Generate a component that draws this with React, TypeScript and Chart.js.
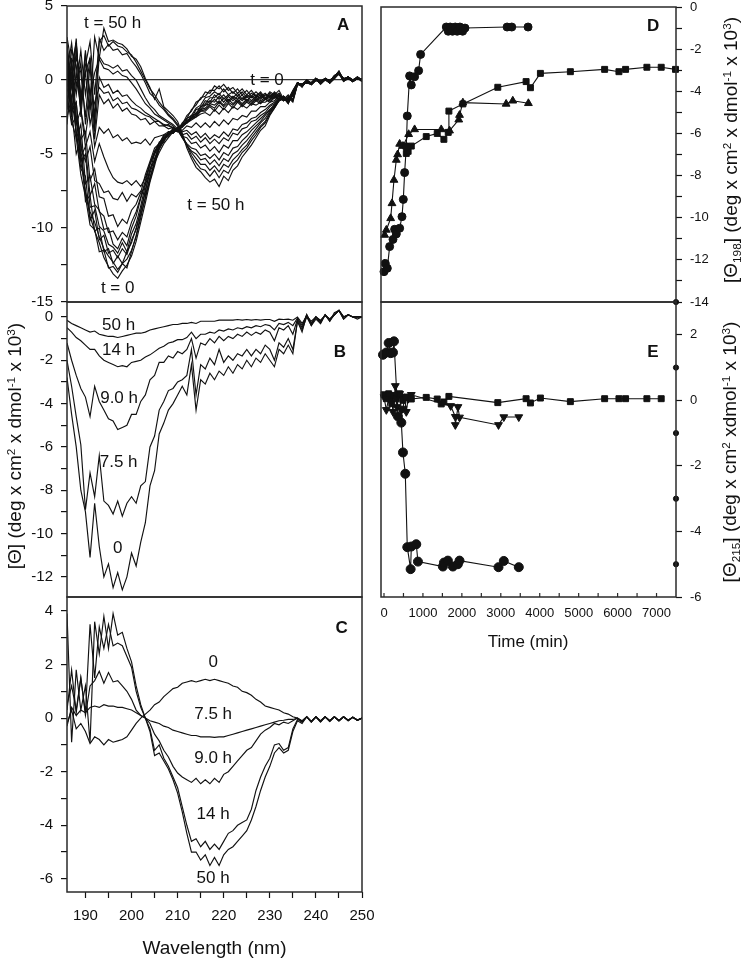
import React, { useEffect, useRef } from "react";
import { Chart, registerables } from "chart.js";
Chart.register(...registerables);

const FONT = "'Liberation Sans', Arial, Helvetica, sans-serif";
const INK = "#111111";

// ---------- shared wavelength axis (nm) ----------
const WAVELENGTH_NM = [186,187,188,189,190,191,192,193,194,195,196,197,198,199,200,201,202,203,204,205,206,207,208,209,210,211,212,213,214,215,216,217,218,219,220,221,222,223,224,225,226,227,228,229,230,231,232,233,234,235,236,237,238,239,240,241,242,243,244,245,246,247,248,249,250];
const WAVE_TICKS = [190,195,200,205,210,215,220,225,230,235,240,245,250];

// ---------- Panel A: measured spectra, t = 0 (A_L1) ... t = 50 h (A_U9) ----------
const A_L1 = [-2.5,-1.2,-3.5,-5.5,-7.6,-9.2,-10.2, -11.0,-12.0,-12.6,-13.1,-13.4,-12.9,-12.5,-11.9,-10.9, -9.6,-8.3,-6.9,-5.8,-4.6,-4.1,-3.7,-3.5,-3.3, -3.0,-2.4,-2.1,-1.5,-1.3,-0.8,-0.9,-0.4,-0.6,-0.3,-0.7,-0.5,-0.9,-0.6,-1.0,-0.7,-1.1,-0.8,-1.2,-0.8,-1.0,-0.7,-1.3,-1.0,-1.4,-0.3, -0.4,-0.1,-0.3,0.0,-0.2,0.1,-0.2,0.2,0.6,0.0,0.2,-0.1,0.2,-0.1];
const A_L2 = [0.5,-2.8,-3.9,-6.4,-7.9,-9.8,-10.1, -11.6,-11.5,-12.7,-12.6,-13.0,-12.4,-12.7,-11.6,-10.5, -9.1,-8.0,-6.6,-5.6,-4.5,-4.0,-3.8,-3.4,-3.4, -2.9,-2.6,-2.0,-1.7,-1.2,-1.1,-0.7,-0.7,-0.4,-0.8,-0.5,-0.9,-0.6,-1.0,-0.7,-1.1,-0.8,-1.1,-0.9,-1.2,-0.8,-1.1,-1.4,-1.1,-1.3,-0.2, -0.3,-0.2,-0.2,0.1,-0.1,0.0,-0.1,0.3,0.5,-0.1,0.1,0.0,0.1,0.0];
const A_L3 = [-1.0,-3.0,-2.5,-5.0,-7.5,-8.9,-9.6, -10.6,-11.4,-11.9,-12.3,-12.8,-12.4,-12.1,-11.5,-10.6, -9.3,-7.9,-6.8,-5.5,-4.7,-4.1,-3.6,-3.6,-3.2, -3.1,-2.6,-2.4,-1.9,-1.7,-1.2,-1.1,-0.8,-1.0,-0.6,-1.0,-0.8,-1.1,-0.8,-1.2,-0.9,-1.1,-0.9,-1.3,-0.9,-1.1,-0.9,-1.4,-1.2,-1.5,-0.3, -0.3,-0.2,-0.2,0.1,-0.1,0.0,-0.1,0.3,0.5,-0.1,0.1,0.0,0.1,0.0];
const A_L4 = [1.5,-2.0,-5.0,-4.0,-8.2,-7.8,-10.2, -10.0,-11.6,-11.4,-12.4,-11.9,-12.4,-11.6,-11.0,-10.0, -8.9,-7.4,-6.3,-5.3,-4.6,-3.9,-3.7,-3.4,-3.5, -3.1,-2.9,-2.4,-2.3,-1.8,-1.6,-1.2,-1.2,-0.9,-1.3,-1.0,-1.2,-0.9,-1.3,-1.0,-1.2,-1.0,-1.3,-1.0,-1.1,-0.9,-1.3,-1.4,-1.2,-1.1,-0.2, -0.5,0.0,-0.3,0.1,-0.3,0.0,-0.1,0.1,0.4,0.1,0.2,0.0,0.1,0.1];
const A_L5 = [-3.0,0.5,-3.5,-6.0,-6.5,-9.5,-8.8, -10.8,-10.5,-11.7,-11.5,-12.0,-11.4,-11.8,-10.8,-10.1, -8.8,-7.6,-6.0,-5.4,-4.3,-4.2,-3.5,-3.6,-3.3, -3.2,-2.7,-2.6,-2.0,-1.9,-1.4,-1.5,-1.0,-1.3,-1.0,-1.4,-1.1,-1.3,-1.0,-1.4,-1.1,-1.2,-1.0,-1.3,-1.0,-1.2,-0.9,-1.3,-1.2,-1.4,-0.3, -0.3,-0.2,-0.2,0.0,-0.2,0.1,-0.1,0.2,0.5,0.0,0.1,0.0,0.1,0.0];
const A_L6 = [2.5,-0.5,-2.5,-5.5,-5.0,-8.6,-8.5, -9.9,-10.2,-11.1,-11.3,-11.7,-11.0,-11.6,-10.4,-9.7, -8.5,-7.1,-6.1,-5.0,-4.5,-3.9,-3.7,-3.4,-3.4, -3.0,-2.9,-2.4,-2.3,-1.8,-1.7,-1.4,-1.5,-1.1,-1.5,-1.1,-1.4,-1.1,-1.4,-1.1,-1.4,-1.1,-1.2,-1.0,-1.2,-0.9,-1.3,-1.1,-1.4,-1.0,-0.3, -0.4,-0.1,-0.2,0.0,-0.2,0.1,-0.1,0.2,0.5,0.0,0.1,-0.1,0.1,0.0];
const A_L7 = [-0.5,1.0,-4.0,-3.0,-7.0,-6.5,-8.4, -8.8,-10.1,-10.0,-11.1,-11.4,-10.7,-11.2,-10.0,-9.2, -8.0,-7.0,-5.7,-5.0,-4.2,-4.0,-3.5,-3.5,-3.3, -3.1,-2.8,-2.6,-2.2,-2.0,-1.7,-1.6,-1.3,-1.6,-1.2,-1.5,-1.2,-1.5,-1.2,-1.4,-1.1,-1.4,-1.1,-1.3,-1.1,-1.2,-1.0,-1.4,-1.2,-1.3,-0.3, -0.3,-0.2,-0.3,0.1,-0.2,0.0,-0.2,0.2,0.4,0.0,0.2,0.0,0.1,-0.1];
const A_L8 = [0.8,-2.2,-1.5,-5.2,-4.5,-7.8,-7.0, -8.9,-9.2,-10.3,-10.2,-10.8,-10.3,-10.6,-9.6,-8.9, -7.9,-6.8,-5.6,-4.9,-4.3,-3.8,-3.6,-3.3,-3.4, -3.0,-2.9,-2.5,-2.4,-2.0,-1.9,-1.6,-1.7,-1.4,-1.7,-1.3,-1.6,-1.3,-1.6,-1.3,-1.5,-1.2,-1.4,-1.2,-1.3,-1.0,-1.3,-1.2,-1.4,-0.9,-0.2, -0.4,-0.1,-0.3,0.0,-0.1,0.1,-0.2,0.1,0.5,0.1,0.1,0.0,0.2,0.0];
const A_L9 = [-2.0,1.5,-2.5,-4.0,-3.5,-6.8,-6.0, -7.9,-8.0,-9.2,-9.1,-9.9,-9.4,-9.7,-8.8,-8.4, -7.6,-6.4,-5.5,-4.6,-4.3,-3.7,-3.7,-3.3,-3.5, -3.1,-2.9,-2.6,-2.5,-2.1,-2.0,-1.7,-1.9,-1.5,-1.8,-1.5,-1.7,-1.4,-1.7,-1.4,-1.6,-1.3,-1.5,-1.3,-1.4,-1.1,-1.3,-1.1,-1.5,-1.0,-0.2, -0.3,-0.2,-0.2,0.1,-0.2,0.1,-0.1,0.2,0.4,0.0,0.2,-0.1,0.1,0.0];
const A_L10 = [0.5,-2.0,-1.5,-4.5,-5.5,-4.5,-6.8, -7.0,-7.6,-7.5,-8.0,-8.1,-7.6,-8.2,-7.7,-7.9, -7.5,-7.8,-6.6,-5.6,-4.9,-4.3,-3.9,-3.5,-3.4, -3.1,-2.8,-2.6,-2.4,-2.1,-2.1,-1.8,-2.1,-1.7,-2.0,-1.6,-1.9,-1.5,-1.8,-1.5,-1.7,-1.4,-1.6,-1.3,-1.5,-1.2,-1.1,-1.3,-1.3,-1.0,-0.2, -0.4,-0.1,-0.3,0.0,-0.1,0.1,-0.2,0.1,0.5,0.1,0.1,0.0,0.2,0.0];
const A_L11 = [-1.5,0.5,-3.0,-2.0,-4.5,-3.5,-5.5, -4.3,-5.2,-6.0,-6.6,-6.9,-7.0,-6.8,-7.1,-6.8, -7.2,-6.6,-5.7,-4.8,-4.3,-3.9,-3.7,-3.4,-3.4, -3.2,-2.9,-2.7,-2.5,-2.3,-2.2,-2.4,-2.0,-2.3,-1.9,-2.2,-1.8,-2.0,-1.7,-1.9,-1.6,-1.7,-1.5,-1.5,-1.3,-1.2,-1.3,-1.2,-1.5,-0.9,-0.2, -0.3,-0.1,-0.2,0.0,-0.2,0.1,-0.1,0.2,0.5,0.0,0.1,-0.1,0.1,0.0];
const A_U1 = [1.0,-2.5,0.5,-2.0,-3.8,-1.5,-4.5, -3.2,-3.6,-3.3,-3.9,-3.7,-4.1,-3.9,-4.3,-4.2, -4.3,-4.0,-4.4,-3.9,-3.8,-3.7,-3.5,-3.6,-3.3, -3.4,-3.1,-3.2,-2.9,-3.2,-2.9,-3.2,-2.8,-3.1,-2.7,-3.0,-2.6,-2.7,-2.4,-2.5,-2.1,-2.1,-1.8,-1.8,-1.5,-1.4,-1.1,-1.2,-1.4,-0.8,-0.2, -0.3,-0.1,-0.2,0.1,-0.1,0.0,-0.1,0.2,0.4,0.0,0.2,0.0,0.1,0.0];
const A_U2 = [-2.0,1.0,-1.0,1.2,-3.0,-0.5,-4.0, -1.0,-1.6,-1.3,-1.9,-1.6,-2.1,-1.9,-2.3,-2.4, -2.7,-2.6,-3.0,-2.8,-3.1,-3.1,-3.3,-3.2,-3.4, -3.5,-3.4,-3.7,-3.5,-3.9,-3.6,-4.0,-3.7,-3.9,-3.5,-3.8,-3.3,-3.4,-3.0,-2.9,-2.6,-2.5,-2.2,-2.0,-1.7,-1.5,-1.2,-1.1,-1.4,-0.8,-0.2, -0.4,-0.1,-0.3,0.0,-0.2,0.1,-0.2,0.1,0.5,0.1,0.1,0.0,0.1,0.0];
const A_U3 = [1.2,-1.5,2.0,-1.0,0.5,-3.0,-1.5, -0.5,-0.9,-0.8,-1.4,-1.2,-1.6,-1.5,-1.9,-2.0, -2.2,-2.4,-2.5,-2.8,-2.8,-3.1,-3.0,-3.3,-3.4, -3.7,-3.6,-4.0,-3.8,-4.2,-3.9,-4.3,-4.0,-4.3,-3.9,-4.1,-3.6,-3.7,-3.3,-3.2,-2.8,-2.7,-2.4,-2.2,-1.8,-1.6,-1.3,-1.1,-1.4,-0.8,-0.2, -0.3,-0.1,-0.2,0.1,-0.1,0.0,-0.1,0.2,0.4,0.0,0.2,-0.1,0.1,0.0];
const A_U4 = [2.0,-1.5,1.5,0.5,-2.5,1.0,-3.5, 0.2,-0.5,-0.3,-0.9,-0.7,-1.1,-1.0,-1.4,-1.7, -1.9,-2.2,-2.4,-2.6,-2.8,-3.0,-3.1,-3.2,-3.4, -3.8,-3.9,-4.3,-4.2,-4.6,-4.4,-4.8,-4.5,-4.9,-4.4,-4.6,-4.1,-4.1,-3.7,-3.5,-3.2,-2.9,-2.6,-2.3,-2.0,-1.7,-1.4,-1.2,-1.3,-0.7,-0.2, -0.3,0.0,-0.2,0.1,-0.1,0.0,-0.1,0.3,0.5,0.0,0.2,0.0,0.1,0.1];
const A_U5 = [-1.0,2.0,1.0,-2.0,1.8,-1.0,0.5, 1.4,0.8,0.7,0.4,0.6,0.3,0.2,-0.2,-0.6, -1.1,-1.6,-1.9,-2.3,-2.5,-2.7,-2.9,-3.1,-3.4, -3.9,-4.3,-4.6,-4.7,-5.1,-5.0,-5.3,-5.0,-5.4,-4.9,-5.1,-4.6,-4.5,-4.1,-3.8,-3.4,-3.1,-2.8,-2.4,-2.0,-1.7,-1.4,-1.2,-1.4,-0.8,-0.2, -0.4,-0.1,-0.3,0.0,-0.2,0.1,-0.1,0.2,0.6,0.0,0.1,-0.1,0.2,0.0];
const A_U6 = [1.5,-0.5,2.5,-1.5,0.5,1.5,-2.5, 1.6,1.1,1.0,0.8,1.0,0.6,0.7,0.3,0.0, -0.6,-1.2,-1.7,-2.0,-2.4,-2.6,-2.8,-3.0,-3.3, -3.9,-4.4,-4.8,-5.0,-5.4,-5.3,-5.7,-5.4,-5.8,-5.3,-5.5,-5.0,-4.8,-4.4,-4.1,-3.7,-3.3,-2.9,-2.6,-2.1,-1.8,-1.4,-1.2,-1.5,-0.8,-0.2, -0.3,-0.1,-0.2,0.1,-0.1,0.1,0.0,0.2,0.5,0.0,0.1,0.0,0.1,0.0];
const A_U7 = [0.5,2.5,-0.5,2.0,-1.0,1.5,-3.0, 2.8,2.0,2.4,2.0,2.1,1.7,1.8,1.3,0.9, 0.4,-0.2,-0.9,-1.2,-1.7,-2.0,-2.4,-2.7,-3.1, -3.8,-4.4,-4.9,-5.3,-5.7,-5.7,-6.1,-5.8,-6.2,-5.7,-5.9,-5.4,-5.1,-4.7,-4.4,-3.9,-3.5,-3.1,-2.8,-2.2,-1.8,-1.3,-1.1,-1.5,-0.8,-0.2, -0.3,0.0,-0.2,0.1,-0.1,0.1,-0.1,0.2,0.4,0.1,0.2,0.0,0.1,0.0];
const A_U8 = [2.2,0.0,2.8,-2.5,1.0,2.6,-1.0, 2.6,3.0,2.3,2.6,2.3,2.2,1.9,1.7,1.2, 0.6,0.0,-0.6,-1.0,-1.5,-1.9,-2.3,-2.6,-3.0, -3.7,-4.4,-5.1,-5.6,-6.0,-6.1,-6.5,-6.1,-6.6,-6.1,-6.3,-5.7,-5.4,-4.9,-4.6,-4.1,-3.7,-3.2,-2.9,-2.3,-1.9,-1.4,-1.2,-1.6,-0.9,-0.2, -0.4,-0.1,-0.3,0.0,-0.2,0.1,-0.1,0.2,0.5,0.0,0.2,-0.1,0.1,0.0];
const A_U9 = [2.9,1.0,2.5,-1.5,2.0,-2.0,2.9, 1.5,3.5,2.6,2.7,2.5,2.4,2.1,1.6,1.4, 0.9,0.1,-0.5,-1.3,-0.6,-1.8,-2.1,-2.4,-2.8, -3.6,-4.6,-5.3,-5.9,-6.2,-6.6,-6.9,-6.7,-7.2,-6.5,-6.8,-6.1,-5.8,-5.2,-4.8,-4.4,-3.9,-3.4,-3.1,-2.4,-1.9,-1.4,-1.2,-1.6,-0.9,-0.2, -0.4,-0.1,-0.3,0.0,-0.2,0.1,-0.2,0.2,0.5,0.0,0.2,-0.1,0.1,0.0];
const A_SERIES = [A_L1, A_L2, A_L3, A_L4, A_L5, A_L6, A_L7, A_L8, A_L9, A_L10, A_L11, A_U1, A_U2, A_U3, A_U4, A_U5, A_U6, A_U7, A_U8, A_U9];
const A_Y_TICKS = [-15, -12.5, -10, -7.5, -5, -2.5, 0, 2.5, 5];

// ---------- Panel B: component 1 ----------
const B_0H = [-2.8,-4.5,-6.0,-8.0,-9.0,-11.1,-8.6,-10.6,-12.0,-11.4, -12.5,-11.8,-12.6,-12.0,-10.9,-11.5,-10.4,-9.5,-7.8,-7.1, -5.4,-4.9,-4.3,-4.0,-3.6,-3.2,-3.6,-2.2,-4.3,-2.9, -3.1,-2.6,-2.9,-2.5,-2.7,-2.3,-2.6,-2.2,-2.4,-2.0, -2.3,-1.9,-2.1,-1.7,-2.0,-2.3,-1.5,-1.7,-1.3,-1.7, -0.2,-0.7,0.1,-0.4,-0.1,-0.3,0.1,-0.2,0.1,0.3, -0.1,0.1,0.0,-0.1,0.0];
const B_7_5H = [-2.0,-3.2,-4.6,-5.9,-8.9,-7.2,-8.3,-6.4,-8.5,-8.7, -9.1,-8.5,-9.2,-8.6,-8.3,-8.6,-7.8,-7.6,-6.0,-5.5, -4.3,-3.9,-3.4,-3.3,-3.0,-2.9,-2.7,-1.5,-3.6,-2.2, -2.4,-1.9,-2.2,-1.5,-2.1,-1.8,-2.0,-1.7,-1.8,-1.5, -1.8,-1.5,-1.7,-1.3,-1.5,-2.0,-1.2,-1.4,-1.0,-1.5, -0.2,-0.6,0.0,-0.4,0.0,-0.3,0.1,-0.2,0.2,0.3, -0.1,0.1,0.0,0.0,0.0];
const B_9H = [-1.2,-2.0,-2.7,-3.3,-3.7,-4.6,-3.2,-3.9,-4.3,-4.7, -4.8,-5.2,-5.1,-5.0,-4.5,-4.5,-3.9,-3.6,-2.9,-2.7, -2.1,-2.1,-1.8,-1.9,-1.6,-1.7,-1.5,-1.0,-1.9,-1.2, -1.3,-1.0,-1.2,-0.9,-1.1,-0.9,-1.0,-0.8,-0.9,-0.7, -0.85,-0.7,-0.8,-0.6,-0.7,-1.1,-0.5,-0.6,-0.4,-0.8, -0.1,-0.5,0.1,-0.3,0.0,-0.2,0.1,-0.1,0.1,0.3, 0.0,0.1,0.0,0.0,0.0];
const B_14H = [-0.5,-0.7,-0.95,-1.1,-1.3,-1.5,-1.5,-1.8,-2.0,-2.1, -2.2,-2.3,-2.25,-2.3,-2.1,-2.05,-2.0,-1.85,-1.75,-1.6, -1.45,-1.35,-1.2,-1.15,-1.05,-1.05,-0.95,-0.7,-1.0,-0.8, -0.8,-0.7,-0.75,-0.6,-0.65,-0.55,-0.6,-0.5,-0.55,-0.45, -0.5,-0.4,-0.45,-0.35,-0.4,-0.6,-0.3,-0.35,-0.25,-0.4, -0.05,-0.4,0.1,-0.3,0.0,-0.2,0.1,-0.1,0.1,0.3, 0.0,0.1,0.0,0.0,0.0];
const B_50H = [-0.15,-0.3,-0.4,-0.5,-0.6,-0.7,-0.65,-0.8,-0.85,-0.9, -0.9,-0.95,-0.9,-0.85,-0.8,-0.75,-0.75,-0.7,-0.6,-0.55, -0.5,-0.45,-0.4,-0.35,-0.35,-0.3,-0.3,-0.25,-0.3,-0.2, -0.2,-0.2,-0.2,-0.15,-0.15,-0.15,-0.15,-0.12,-0.15,-0.12, -0.15,-0.12,-0.15,-0.12,-0.12,-0.2,-0.1,-0.12,-0.1,-0.15, 0.0,-0.3,0.05,-0.2,0.0,-0.15,0.05,-0.1,0.1,0.3, 0.0,0.1,0.0,0.0,0.0];
const B_SERIES = [B_0H, B_7_5H, B_9H, B_14H, B_50H];
const B_Y_TICKS = [-12,-11,-10,-9,-8,-7,-6,-5,-4,-3,-2,-1,0];

// ---------- Panel C: component 2 ----------
const C_0H = [-0.2,0.3,-0.4,-0.2,-0.5,-0.95,-0.7,-0.8,-1.0,-0.8, -0.9,-0.85,-0.8,-0.7,-0.45,-0.2,0.0,0.15,0.3,0.5, 0.6,0.8,0.95,1.1,1.15,1.3,1.35,1.4,1.35,1.4, 1.45,1.4,1.45,1.4,1.35,1.3,1.2,1.15,1.0,0.95, 0.85,0.7,0.6,0.45,0.4,0.35,0.3,0.2,0.15,0.05, 0.0,-0.1,0.05,-0.12,0.05,-0.12,0.05,-0.1,0.05,-0.1, 0.05,-0.08,0.03,-0.08,0.0];
const C_7_5H = [-0.3,0.4,0.1,0.3,0.2,0.4,0.45,0.4,0.5,0.45, 0.45,0.4,0.4,0.35,0.3,0.2,0.1,0.0,-0.1,-0.15, -0.2,-0.3,-0.35,-0.45,-0.5,-0.55,-0.6,-0.65,-0.65,-0.7, -0.7,-0.7,-0.72,-0.7,-0.7,-0.65,-0.6,-0.55,-0.5,-0.45, -0.4,-0.35,-0.3,-0.25,-0.2,-0.15,-0.1,-0.08,-0.05,-0.05, 0.0,-0.12,0.05,-0.12,0.05,-0.1,0.05,-0.1,0.05,-0.1, 0.05,-0.08,0.03,-0.06,0.0];
const C_9H = [0.3,1.8,0.2,1.5,0.1,1.2,1.4,1.75,1.3,1.7, 1.35,1.4,1.2,1.0,0.7,0.3,0.1,0.0,-0.2,-0.6, -0.85,-1.2,-1.45,-1.8,-2.05,-2.2,-2.3,-2.4,-2.25,-2.45, -2.3,-2.45,-2.25,-2.4,-2.1,-2.0,-1.8,-1.6,-1.4,-1.2, -1.1,-0.85,-0.6,-0.45,-0.35,-0.2,-0.25,-0.15,-0.2,-0.1, 0.0,-0.15,0.05,-0.12,0.05,-0.12,0.05,-0.1,0.05,-0.1, 0.05,-0.08,0.03,-0.08,0.0];
const C_14H = [0.5,1.2,0.3,1.5,0.2,3.5,1.5,3.4,2.6,3.5, 2.7,2.8,2.7,2.3,1.9,1.0,0.4,0.0,-0.4,-1.2, -1.0,-1.5,-1.8,-2.2,-2.6,-3.3,-4.0,-4.6,-4.5,-4.8, -4.6,-4.9,-4.7,-4.9,-4.6,-4.3,-4.2,-4.0,-3.9,-3.8, -3.4,-2.7,-2.2,-1.8,-1.5,-1.0,-0.95,-1.2,-1.1,-0.4, -0.05,-0.15,0.05,-0.15,0.05,-0.12,0.05,-0.12,0.05,-0.1, 0.05,-0.1,0.03,-0.08,0.0];
const C_50H = [3.9,-0.9,1.8,0.3,1.2,-0.9,3.6,2.4,3.8,2.6, 3.9,3.1,3.2,2.6,2.1,1.2,0.5,0.0,-0.5,-1.4, -1.3,-1.6,-1.9,-2.3,-2.8,-3.5,-4.3,-5.0,-5.0,-5.3, -5.1,-5.5,-5.2,-5.5,-5.1,-4.9,-4.8,-4.6,-4.4,-4.2, -3.8,-3.3,-2.7,-2.2,-1.8,-1.3,-1.1,-1.3,-1.2,-0.5, -0.1,-0.2,0.05,-0.15,0.05,-0.15,0.05,-0.12,0.05,-0.1, 0.05,-0.1,0.03,-0.08,0.0];
const C_SERIES = [C_0H, C_7_5H, C_9H, C_14H, C_50H];
const C_Y_TICKS = [-6,-5,-4,-3,-2,-1,0,1,2,3,4];

// ---------- Panel D: [Theta]198 vs time ----------
const D_CIRCLE_T = [0,34,85,145,231,273,316,402,462,496,530,573,598,658,701,786,889,940,1600,1650,1700,1760,1830,1880,1950,2020,2080,3162,3282,3700];
const D_CIRCLE_V = [-12.56,-12.17,-12.4,-11.37,-11.03,-10.55,-10.77,-10.5,-9.95,-9.13,-7.86,-6.63,-5.17,-3.27,-3.7,-3.31,-3.02,-2.25,-0.95,-1.15,-0.95,-1.15,-0.95,-1.15,-0.95,-1.15,-1.0,-0.95,-0.95,-0.95];
const D_TRI_T = [17,60,171,205,256,316,350,402,487,633,786,1470,1684,1920,1940,2026,3137,3308,3709];
const D_TRI_V = [-10.82,-10.58,-10.03,-9.32,-8.21,-7.26,-7.0,-6.5,-6.6,-6.04,-5.81,-5.81,-5.87,-5.35,-5.13,-4.54,-4.6,-4.45,-4.57];
const D_SQ_T = [573,620,701,1085,1367,1538,1650,1667,2026,2923,3650,3761,4017,4787,5667,6034,6205,6752,7120,7487];
const D_SQ_V = [-6.95,-6.85,-6.6,-6.15,-6.0,-6.28,-5.95,-4.94,-4.6,-3.81,-3.54,-3.83,-3.15,-3.07,-2.96,-3.07,-2.96,-2.86,-2.86,-2.96];
const D_AXIS_DOT_T = [7500];
const D_AXIS_DOT_V = [-14];
const D_Y_TICKS = [-14,-13,-12,-11,-10,-9,-8,-7,-6,-5,-4,-3,-2,-1,0];

// ---------- Panel E: [Theta]215 vs time ----------
const E_CIRCLE_T = [-26,60,120,171,231,256,359,445,487,547,598,684,701,829,872,1513,1540,1641,1769,1897,1940,2941,3077,3462];
const E_CIRCLE_V = [1.39,1.46,1.75,1.44,1.46,1.8,-0.49,-0.68,-1.59,-2.24,-4.48,-5.15,-4.46,-4.39,-4.92,-5.07,-4.95,-4.89,-5.07,-5.0,-4.89,-5.09,-4.9,-5.09];
const E_SQ_T = [0,60,120,200,256,316,402,487,573,701,1085,1367,1470,1538,1667,2923,3650,3761,4017,4787,5667,6034,6205,6752,7120];
const E_SQ_V = [0.17,0.05,0.2,-0.1,0.15,0.05,0.2,0.0,0.1,0.04,0.09,0.04,-0.11,-0.05,0.12,-0.07,0.05,-0.08,0.07,-0.04,0.05,0.05,0.05,0.05,0.05];
const E_TRI_T = [0,60,120,188,230,291,330,402,445,487,530,573,620,701,1713,1832,1832,1900,1940,2941,3077,3462];
const E_TRI_V = [0.1,-0.29,0.05,0.1,-0.35,0.44,-0.2,0.2,-0.3,-0.25,0.1,-0.35,0.05,0.17,-0.17,-0.5,-0.75,-0.2,-0.52,-0.75,-0.51,-0.51];
const E_AXIS_DOT_T = [7500, 7500, 7500, 7500];
const E_AXIS_DOT_V = [1, -1, -3, -5];
const E_Y_TICKS = [-6,-4,-2,0,2];
const TIME_TICKS = [0,500,1000,1500,2000,2500,3000,3500,4000,4500,5000,5500,6000,6500,7000];

// ---------- annotation texts (placed in data units) ----------
const A_NOTES = [
  { text: "t = 50 h", x: 195.9, y: 3.85 },
  { text: "t = 0", x: 229.4, y: -0.05 },
  { text: "t = 50 h", x: 218.3, y: -8.45 },
  { text: "t = 0", x: 197, y: -14.1 },
  { text: "A", x: 245.9, y: 3.7, bold: true },
];
const B_NOTES = [
  { text: "50 h", x: 197.2, y: -0.4 },
  { text: "14 h", x: 197.2, y: -1.53 },
  { text: "9.0 h", x: 197.3, y: -3.76 },
  { text: "7.5 h", x: 197.2, y: -6.7 },
  { text: "0", x: 197, y: -10.7 },
  { text: "B", x: 245.2, y: -1.62, bold: true },
];
const C_NOTES = [
  { text: "0", x: 217.7, y: 2.09 },
  { text: "7.5 h", x: 217.7, y: 0.14 },
  { text: "9.0 h", x: 217.7, y: -1.51 },
  { text: "14 h", x: 217.7, y: -3.59 },
  { text: "50 h", x: 217.7, y: -5.99 },
  { text: "C", x: 245.6, y: 3.34, bold: true },
];
const D_NOTES = [{ text: "D", x: 6910, y: -0.9, bold: true }];
const E_NOTES = [{ text: "E", x: 6910, y: 1.48, bold: true }];

// ---------- helpers ----------
const isMultiple = (v: number, step: number) => Math.abs(v / step - Math.round(v / step)) < 1e-6;
const setTicks = (vals: number[]) => (axis: any) => {
  axis.ticks = vals.map((value) => ({ value }));
};

function makePlugins(notes: any[], innerTicks: number[] | null) {
  return [
    {
      id: "frame",
      afterDatasetsDraw(chart: any) {
        const { ctx, chartArea: a } = chart;
        ctx.save();
        ctx.strokeStyle = "#2a2a2a";
        ctx.lineWidth = 1.5;
        ctx.strokeRect(a.left, a.top, a.right - a.left, a.bottom - a.top);
        if (innerTicks) {
          const xs = chart.scales.x;
          ctx.lineWidth = 1.2;
          ctx.beginPath();
          innerTicks.forEach((t) => {
            const px = xs.getPixelForValue(t);
            ctx.moveTo(px, a.bottom);
            ctx.lineTo(px, a.bottom - 4);
          });
          ctx.stroke();
        }
        ctx.restore();
      },
    },
    {
      id: "notes",
      afterDraw(chart: any) {
        const ctx = chart.ctx;
        const xs = chart.scales.x;
        const ys = chart.scales.y;
        notes.forEach((n) => {
          ctx.save();
          ctx.font = n.bold ? `bold 17px ${FONT}` : `17px ${FONT}`;
          ctx.fillStyle = INK;
          ctx.textAlign = "center";
          ctx.textBaseline = "middle";
          ctx.fillText(n.text, xs.getPixelForValue(n.x), ys.getPixelForValue(n.y));
          ctx.restore();
        });
      },
    },
  ];
}

function spectra(series: number[][]) {
  return series.map((s) => ({
    data: WAVELENGTH_NM.map((x, i) => ({ x, y: s[i] })),
    borderColor: INK,
    borderWidth: 1.15,
    pointRadius: 0,
    fill: false,
    tension: 0,
  }));
}

function kinetic(T: number[], V: number[], style: string, radius: number, rotation = 0, line = true) {
  return {
    data: T.map((x, i) => ({ x, y: V[i] })),
    borderColor: INK,
    backgroundColor: INK,
    borderWidth: 1.1,
    pointStyle: style,
    pointRadius: radius,
    pointRotation: rotation,
    pointBackgroundColor: INK,
    pointBorderColor: INK,
    pointBorderWidth: 1,
    showLine: line,
    tension: 0,
    clip: false,
  };
}

function fixY(width: number) {
  return (s: any) => {
    s.width = width;
    s.paddingTop = 0;
    s.paddingBottom = 0;
    s.paddingLeft = 0;
    s.paddingRight = 0;
  };
}
function fixX(height: number) {
  return (s: any) => {
    s.height = height;
    s.paddingTop = 0;
    s.paddingBottom = 0;
    s.paddingLeft = 0;
    s.paddingRight = 0;
  };
}

function leftY(min: number, max: number, ticks: number[], labelStep: number, zeroLine = false) {
  return {
    type: "linear",
    position: "left",
    min,
    max,
    afterBuildTicks: setTicks(ticks),
    afterFit: fixY(67),
    grid: {
      drawOnChartArea: zeroLine,
      drawTicks: true,
      tickLength: 6,
      tickColor: INK,
      tickWidth: 1.2,
      lineWidth: 1.2,
      color: (c: any) => (c.tick && c.tick.value === 0 ? "#333" : "rgba(0,0,0,0)"),
    },
    border: { display: false },
    ticks: {
      autoSkip: false,
      padding: 8,
      color: INK,
      font: { family: FONT, size: 15 },
      callback: (v: number) => (isMultiple(v, labelStep) ? String(v) : ""),
    },
  };
}

function rightY(min: number, max: number, ticks: number[], labelStep: number) {
  return {
    type: "linear",
    position: "right",
    min,
    max,
    afterBuildTicks: setTicks(ticks),
    afterFit: fixY(69),
    grid: { drawOnChartArea: false, drawTicks: true, tickLength: 6, tickColor: INK, tickWidth: 1.2 },
    border: { display: false },
    ticks: {
      autoSkip: false,
      padding: 8,
      color: INK,
      font: { family: FONT, size: 13 },
      callback: (v: number) => (isMultiple(v, labelStep) ? String(v) : ""),
    },
  };
}

const hiddenWaveX = { type: "linear", min: 186, max: 250, display: false };
const hiddenTimeX = { type: "linear", min: -77, max: 7500, display: false };

function baseConfig(datasets: any[], x: any, y: any, padding: any, notes: any[], innerTicks: number[] | null = null) {
  return {
    type: "line",
    data: { datasets },
    options: {
      animation: false,
      responsive: false,
      maintainAspectRatio: false,
      devicePixelRatio: 1,
      events: [],
      layout: { padding, autoPadding: false },
      plugins: { legend: { display: false }, tooltip: { enabled: false } },
      scales: { x, y },
    },
    plugins: makePlugins(notes, innerTicks),
  };
}

const configA = () =>
  baseConfig(spectra(A_SERIES), hiddenWaveX, leftY(-15, 5, A_Y_TICKS, 5, true), { left: 0, top: 6, right: 10, bottom: 18 }, A_NOTES);

const configB = () =>
  baseConfig(spectra(B_SERIES), hiddenWaveX, leftY(-12.93, 0.69, B_Y_TICKS, 2), { left: 0, top: 10, right: 10, bottom: 10 }, B_NOTES);

const configC = () =>
  baseConfig(
    spectra(C_SERIES),
    {
      type: "linear",
      position: "bottom",
      min: 186,
      max: 250,
      afterBuildTicks: setTicks(WAVE_TICKS),
      afterFit: fixX(68),
      grid: { drawOnChartArea: false, drawTicks: true, tickLength: 6, tickColor: INK, tickWidth: 1.2 },
      border: { display: false },
      ticks: {
        autoSkip: false,
        maxRotation: 0,
        padding: 9,
        color: INK,
        font: { family: FONT, size: 15 },
        callback: (v: number) => (isMultiple(v, 10) ? String(v) : ""),
      },
    },
    leftY(-6.49, 4.52, C_Y_TICKS, 2),
    { left: 0, top: 10, right: 18, bottom: 0 },
    C_NOTES
  );

const configD = () =>
  baseConfig(
    [
      kinetic(D_CIRCLE_T, D_CIRCLE_V, "circle", 4),
      kinetic(D_TRI_T, D_TRI_V, "triangle", 4.5),
      kinetic(D_SQ_T, D_SQ_V, "rect", 4.2),
      kinetic(D_AXIS_DOT_T, D_AXIS_DOT_V, "circle", 2.6, 0, false),
    ],
    hiddenTimeX,
    rightY(-14, 0, D_Y_TICKS, 2),
    { left: 9, top: 7, right: 0, bottom: 8 },
    D_NOTES
  );

const configE = () =>
  baseConfig(
    [
      kinetic(E_CIRCLE_T, E_CIRCLE_V, "circle", 4.5),
      kinetic(E_SQ_T, E_SQ_V, "rect", 4.2),
      kinetic(E_TRI_T, E_TRI_V, "triangle", 4.5, 180),
      kinetic(E_AXIS_DOT_T, E_AXIS_DOT_V, "circle", 2.6, 0, false),
    ],
    {
      type: "linear",
      position: "bottom",
      min: -77,
      max: 7500,
      afterBuildTicks: setTicks(TIME_TICKS),
      afterFit: fixX(65),
      grid: { drawOnChartArea: false, drawTicks: false },
      border: { display: false },
      ticks: {
        autoSkip: false,
        maxRotation: 0,
        padding: 9,
        color: INK,
        font: { family: FONT, size: 13 },
        callback: (v: number) => (isMultiple(v, 1000) ? String(v) : ""),
      },
    },
    rightY(-6, 3, E_Y_TICKS, 2),
    { left: 9, top: 10, right: 0, bottom: 0 },
    E_NOTES,
    TIME_TICKS
  );

function Panel({ left, top, width, height, build }: any) {
  const ref = useRef<HTMLCanvasElement | null>(null);
  useEffect(() => {
    const chart = new Chart(ref.current as HTMLCanvasElement, build() as any);
    return () => chart.destroy();
  }, []);
  return <canvas ref={ref} width={width} height={height} style={{ position: "absolute", left, top, width, height }} />;
}

function VText({ cx, cy, size, children }: any) {
  return (
    <div
      style={{
        position: "absolute",
        left: cx - 200,
        top: cy - 15,
        width: 400,
        height: 30,
        lineHeight: "30px",
        textAlign: "center",
        transform: "rotate(-90deg)",
        whiteSpace: "nowrap",
        fontFamily: FONT,
        fontSize: size,
        color: INK,
      }}
    >
      {children}
    </div>
  );
}

function HText({ cx, cy, size, children }: any) {
  return (
    <div
      style={{
        position: "absolute",
        left: cx - 150,
        top: cy - 15,
        width: 300,
        height: 30,
        lineHeight: "30px",
        textAlign: "center",
        whiteSpace: "nowrap",
        fontFamily: FONT,
        fontSize: size,
        color: INK,
      }}
    >
      {children}
    </div>
  );
}

const supStyle = { fontSize: "0.62em", verticalAlign: "0.55em", lineHeight: 0 };
const subStyle = { fontSize: "0.62em", verticalAlign: "-0.3em", lineHeight: 0 };

export default function App() {
  return (
    <div style={{ position: "absolute", left: 0, top: 0, width: 745, height: 960, background: "#fff", overflow: "hidden" }}>
      <Panel left={0} top={0} width={372} height={320} build={configA} />
      <Panel left={0} top={292} width={372} height={315} build={configB} />
      <Panel left={0} top={587} width={380} height={373} build={configC} />
      <Panel left={372} top={0} width={373} height={310} build={configD} />
      <Panel left={372} top={292} width={373} height={370} build={configE} />

      <VText cx={15} cy={446} size={19}>
        [Θ] (deg x cm<span style={supStyle}>2</span> x dmol<span style={supStyle}>-1</span> x 10<span style={supStyle}>3</span>)
      </VText>
      <VText cx={731} cy={150} size={19}>
        [Θ<span style={subStyle}>198</span>] (deg x cm<span style={supStyle}>2</span> x dmol<span style={supStyle}>-1</span> x 10
        <span style={supStyle}>3</span>)
      </VText>
      <VText cx={730} cy={452} size={19}>
        [Θ<span style={subStyle}>215</span>] (deg x cm<span style={supStyle}>2</span> xdmol<span style={supStyle}>-1</span> x 10
        <span style={supStyle}>3</span>)
      </VText>
      <HText cx={214.5} cy={948} size={19}>
        Wavelength (nm)
      </HText>
      <HText cx={528} cy={642} size={17}>
        Time (min)
      </HText>
    </div>
  );
}
